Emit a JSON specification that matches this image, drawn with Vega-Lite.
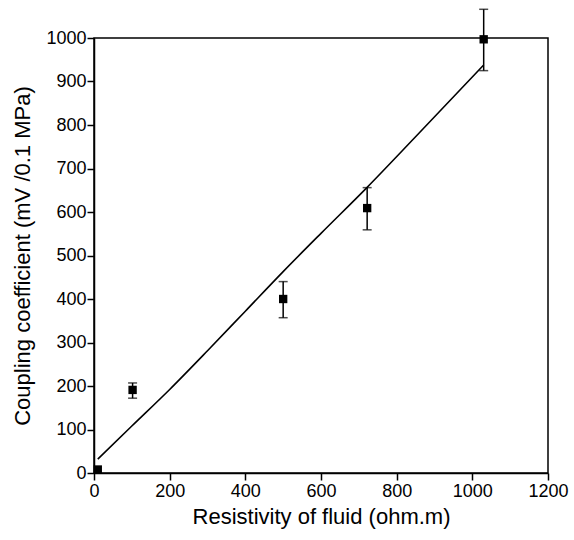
{
  "$schema": "https://vega.github.io/schema/vega-lite/v6.json",
  "autosize": "none",
  "padding": {"left": 94, "top": 38, "right": 26, "bottom": 67},
  "width": 454,
  "height": 435,
  "background": "white",
  "datasets": {
    "pts": [
      {"r": 10, "c": 8, "lo": null, "hi": null},
      {"r": 102, "c": 191, "lo": 172, "hi": 207},
      {"r": 500, "c": 400, "lo": 357, "hi": 440},
      {"r": 722, "c": 609, "lo": 559, "hi": 656},
      {"r": 1030, "c": 997, "lo": 925, "hi": 1066}
    ],
    "fit": [
      {"r": 10, "c": 32},
      {"r": 100, "c": 108},
      {"r": 200, "c": 192},
      {"r": 300, "c": 281},
      {"r": 400, "c": 372},
      {"r": 500, "c": 463},
      {"r": 600, "c": 551},
      {"r": 720, "c": 655},
      {"r": 850, "c": 773},
      {"r": 1030, "c": 938}
    ]
  },
  "config": {
    "view": {"stroke": "black", "strokeWidth": 1.5},
    "axis": {
      "grid": false,
      "format": "d",
      "labelFont": "Liberation Sans",
      "titleFont": "Liberation Sans",
      "labelFontSize": 18,
      "titleFontSize": 22,
      "titleFontWeight": "normal",
      "labelColor": "black",
      "titleColor": "black",
      "domainColor": "black",
      "tickColor": "black",
      "domainWidth": 1.5,
      "tickWidth": 1.5,
      "tickSize": 7,
      "labelOverlap": false,
      "labelFlush": false
    }
  },
  "layer": [
    {
      "data": {"name": "fit"},
      "mark": {"type": "line", "color": "black", "strokeWidth": 1.6, "interpolate": "monotone"},
      "encoding": {
        "x": {"field": "r", "type": "quantitative", "scale": {"domain": [0, 1200], "nice": false},
              "axis": {"title": "Resistivity of fluid (ohm.m)", "values": [0, 200, 400, 600, 800, 1000, 1200], "labelPadding": 2, "titlePadding": 6}},
        "y": {"field": "c", "type": "quantitative", "scale": {"domain": [0, 1000], "nice": false},
              "axis": {"title": "Coupling coefficient (mV /0.1 MPa)", "values": [0, 100, 200, 300, 400, 500, 600, 700, 800, 900, 1000], "labelPadding": 1, "titlePadding": 11}}
      }
    },
    {
      "data": {"name": "pts"},
      "transform": [{"filter": "datum.lo != null"}],
      "mark": {"type": "rule", "color": "black", "strokeWidth": 1.5},
      "encoding": {
        "x": {"field": "r", "type": "quantitative"},
        "y": {"field": "lo", "type": "quantitative"},
        "y2": {"field": "hi"}
      }
    },
    {
      "data": {"name": "pts"},
      "transform": [{"filter": "datum.lo != null"}],
      "mark": {"type": "tick", "orient": "horizontal", "color": "black", "size": 9, "thickness": 1.5},
      "encoding": {
        "x": {"field": "r", "type": "quantitative"},
        "y": {"field": "lo", "type": "quantitative"}
      }
    },
    {
      "data": {"name": "pts"},
      "transform": [{"filter": "datum.lo != null"}],
      "mark": {"type": "tick", "orient": "horizontal", "color": "black", "size": 9, "thickness": 1.5},
      "encoding": {
        "x": {"field": "r", "type": "quantitative"},
        "y": {"field": "hi", "type": "quantitative"}
      }
    },
    {
      "data": {"name": "pts"},
      "mark": {"type": "point", "shape": "square", "filled": true, "color": "black", "opacity": 1, "size": 70},
      "encoding": {
        "x": {"field": "r", "type": "quantitative"},
        "y": {"field": "c", "type": "quantitative"}
      }
    }
  ]
}
